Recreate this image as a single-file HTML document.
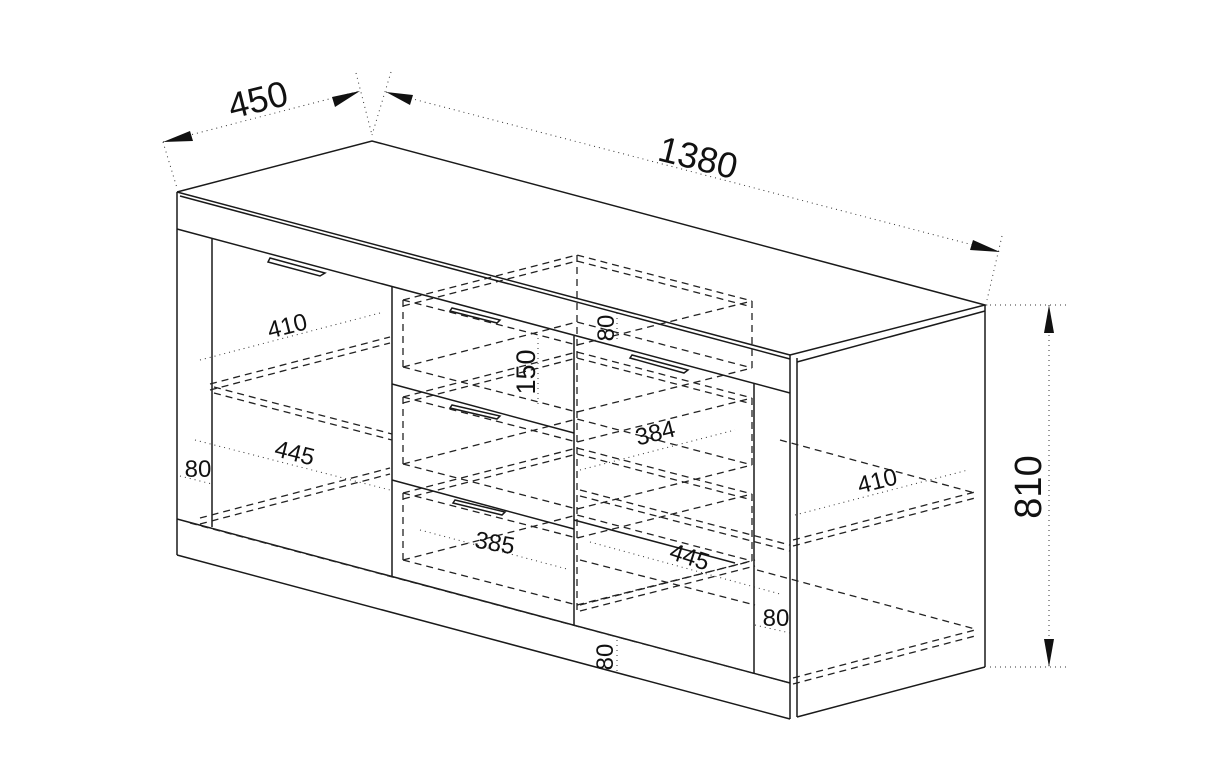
<!DOCTYPE html>
<html><head><meta charset="utf-8"><style>
html,body{margin:0;padding:0;background:#fff;}
svg{display:block;}
text{font-family:"Liberation Sans",sans-serif;fill:#111;}
</style></head><body>
<svg width="1221" height="767" viewBox="0 0 1221 767" xmlns="http://www.w3.org/2000/svg">
<g fill="none" stroke="#1a1a1a" stroke-width="1.5">
<polyline points="177,192 372,141 985,305 790,355"/>
<line x1="177" y1="192" x2="790" y2="355"/>
<line x1="180" y1="196" x2="790" y2="359"/>
<line x1="797" y1="362" x2="985" y2="311"/>
<line x1="177" y1="192" x2="177" y2="555"/>
<line x1="790" y1="355" x2="790" y2="719"/>
<line x1="797" y1="358" x2="797" y2="717"/>
<line x1="985" y1="305" x2="985" y2="667"/>
<line x1="177" y1="229" x2="790" y2="393"/>
<line x1="212" y1="239" x2="212" y2="527"/>
<line x1="392" y1="287" x2="392" y2="577"/>
<line x1="574" y1="336" x2="574" y2="625"/>
<line x1="754" y1="383" x2="754" y2="673"/>
<line x1="392" y1="384" x2="574" y2="433"/>
<line x1="392" y1="480" x2="574" y2="529"/>
<line x1="574" y1="520" x2="735" y2="563"/>
<line x1="177" y1="519" x2="790" y2="683"/>
<line x1="177" y1="555" x2="790" y2="719"/>
<line x1="797" y1="717" x2="985" y2="667"/>
<polygon points="270,258 325,273 320,276 268,262"/>
<polygon points="452,308 500,320 497,323 450,311"/>
<polygon points="452,405 500,416 497,419 450,408"/>
<polygon points="455,500 505,512 502,515 453,503"/>
<polygon points="632,355 688,370 684,373 630,358"/>
</g>
<g fill="none" stroke="#222" stroke-width="1.3" stroke-dasharray="7,5">
<g>
<polyline points="403,300 577,255 752,301"/><polyline points="403,306 577,261 752,307"/>
<polyline points="403,300 577,345 752,301"/>
<polyline points="403,367 577,322 752,368"/><polyline points="403,367 577,412 752,368"/>
<line x1="403" y1="300" x2="403" y2="367"/><line x1="752" y1="301" x2="752" y2="368"/>
<line x1="577" y1="255" x2="577" y2="610"/>
</g>
<g>
<polyline points="403,397 577,352 752,398"/><polyline points="403,403 577,358 752,404"/>
<polyline points="403,397 577,442 752,398"/>
<polyline points="403,464 577,419 752,465"/><polyline points="403,464 577,509 752,465"/>
<line x1="403" y1="397" x2="403" y2="464"/><line x1="752" y1="398" x2="752" y2="465"/>
</g>
<g>
<polyline points="403,493 577,448 752,494"/><polyline points="403,499 577,454 752,500"/>
<polyline points="403,493 577,538 752,494"/>
<polyline points="403,560 577,515 752,561"/><polyline points="403,560 577,605 752,561"/>
<line x1="403" y1="493" x2="403" y2="560"/><line x1="752" y1="494" x2="752" y2="561"/>
</g>
<line x1="210" y1="384" x2="390" y2="337"/><line x1="210" y1="390" x2="390" y2="343"/>
<line x1="214" y1="387" x2="392" y2="434"/><line x1="214" y1="393" x2="392" y2="440"/>
<line x1="200" y1="518" x2="390" y2="468"/><line x1="200" y1="524" x2="390" y2="474"/>
<line x1="190" y1="523" x2="790" y2="683"/>
<line x1="793" y1="540" x2="975" y2="492"/><line x1="793" y1="546" x2="975" y2="498"/>
<line x1="780" y1="440" x2="975" y2="493"/><line x1="580" y1="490" x2="790" y2="545"/>
<line x1="580" y1="496" x2="790" y2="551"/>
<line x1="793" y1="678" x2="975" y2="630"/><line x1="793" y1="684" x2="975" y2="636"/>
<line x1="757" y1="570" x2="975" y2="629"/><line x1="580" y1="560" x2="755" y2="605"/>
<line x1="580" y1="605" x2="755" y2="560"/><line x1="580" y1="611" x2="755" y2="566"/>
</g>
<g fill="none" stroke="#333" stroke-width="1" stroke-dasharray="1,4">
<line x1="163" y1="142" x2="360" y2="91"/>
<line x1="163" y1="142" x2="177" y2="188"/>
<line x1="356" y1="73" x2="372" y2="135"/>
<line x1="391" y1="72" x2="372" y2="135"/>
<line x1="386" y1="92" x2="1000" y2="252"/>
<line x1="1002" y1="236" x2="987" y2="300"/>
<line x1="990" y1="305" x2="1070" y2="305"/>
<line x1="990" y1="667" x2="1070" y2="667"/>
<line x1="1049" y1="305" x2="1049" y2="667"/>
<line x1="200" y1="360" x2="380" y2="313"/>
<line x1="195" y1="440" x2="390" y2="490"/>
<line x1="180" y1="476" x2="212" y2="484"/>
<line x1="420" y1="530" x2="567" y2="569"/>
<line x1="580" y1="470" x2="735" y2="430"/>
<line x1="590" y1="542" x2="780" y2="594"/>
<line x1="795" y1="515" x2="968" y2="470"/>
<line x1="755" y1="625" x2="790" y2="633"/>
<line x1="617" y1="308" x2="617" y2="342"/>
<line x1="538" y1="338" x2="538" y2="407"/>
<line x1="617" y1="640" x2="617" y2="672"/>
</g>
<g fill="#111">
<polygon points="163,142 190,131 193,141"/>
<polygon points="360,91 332,97 335,107"/>
<polygon points="386,92 413,95 410,105"/>
<polygon points="1000,252 973,240 970,250"/>
<polygon points="1049,305 1044,333 1054,333"/>
<polygon points="1049,667 1044,639 1054,639"/>
</g>
<text x="258" y="112" font-size="36" text-anchor="middle" transform="rotate(-14 258 100)">450</text>
<text x="698" y="170" font-size="36" text-anchor="middle" transform="rotate(14 698 158)">1380</text>
<text x="1041" y="487" font-size="38" text-anchor="middle" transform="rotate(-90 1041 487)">810</text>
<g font-size="24">
<text x="287" y="334" text-anchor="middle" transform="rotate(-14 287 325)">410</text>
<text x="295" y="461" text-anchor="middle" transform="rotate(14 295 452)">445</text>
<text x="198" y="477" text-anchor="middle">80</text>
<text x="526" y="381" text-anchor="middle" font-size="27" transform="rotate(-90 526 372)">150</text>
<text x="605" y="337" text-anchor="middle" transform="rotate(-90 605 328)">80</text>
<text x="655" y="441" text-anchor="middle" transform="rotate(-14 655 432)">384</text>
<text x="877" y="489" text-anchor="middle" transform="rotate(-14 877 480)">410</text>
<text x="495" y="551" text-anchor="middle" transform="rotate(10 495 542)">385</text>
<text x="690" y="565" text-anchor="middle" transform="rotate(18 690 556)">445</text>
<text x="776" y="626" text-anchor="middle">80</text>
<text x="604" y="666" text-anchor="middle" transform="rotate(-90 604 657)">80</text>
</g>
</svg>
</body></html>
